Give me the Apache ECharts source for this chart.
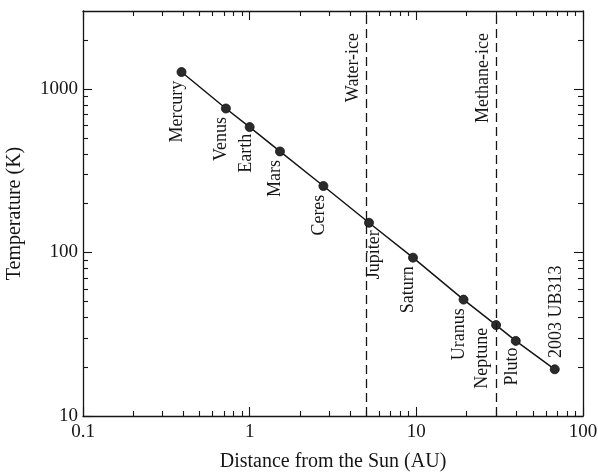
<!DOCTYPE html>
<html>
<head>
<meta charset="utf-8">
<script src="https://cdn.jsdelivr.net/npm/echarts@6/dist/echarts.min.js"></script>
<style>
html,body{margin:0;padding:0;background:#fff;}
#main{width:598px;height:475px;}
</style>
</head>
<body>
<div id="main"></div>
<script>
//天体名称 / 距离(AU) / 温度(K)
var bodyNames = ['Mercury','Venus','Earth','Mars','Ceres','Jupiter','Saturn','Uranus','Neptune','Pluto','2003 UB313'];
var distances = [0.39, 0.72, 1.0, 1.52, 2.77, 5.2, 9.55, 19.2, 30.1, 39.5, 67.7];
var temperatures = [1270, 760, 585, 415, 255, 152, 93, 51.5, 36, 28.8, 19.3];

//冰线
var iceLineNames = ['Water-ice','Methane-ice'];
var iceLineDist = [5, 30];

//刻度
var xTickLabels = ['0.1','1','10','100'];
var yTickLabels = ['10','100','1000'];
var xMin = 0.1, xMax = 100, yMin = 10, yMax = 3000;

var FONT = '"Liberation Serif", "DejaVu Serif", serif';
var INK = '#151515';

//标签位置微调 [dx, dy] 相对于点中心
var labelShift = {
    'Jupiter': [6, 8],
    'Neptune': [-13, 3],
    'Earth': [-3, 7],
    'Pluto': [-3, 7]
};

function log10(v){ return Math.log(v) / Math.LN10; }

function minorTicks(lo, hi){
    var arr = [];
    for (var d = lo; d < hi; d++) {
        for (var m = 2; m <= 9; m++) {
            var v = log10(m) + d;
            arr.push(v);
        }
    }
    return arr;
}

var xMajor = xTickLabels.map(function(s){ return Math.round(log10(parseFloat(s))); });
var yMajor = yTickLabels.map(function(s){ return Math.round(log10(parseFloat(s))); });
var xMinor = minorTicks(-1, 2);
var yMinor = minorTicks(1, 4).filter(function(v){ return v < log10(yMax) - 0.01; });

var points = [];
for (var i = 0; i < bodyNames.length; i++) {
    var name = bodyNames[i];
    var sh = labelShift[name] || [-4, 9];
    var lbl;
    if (name == '2003 UB313') {
        lbl = {position: [4.5 + 2, 4.5 - 11], align: 'left'};
    } else {
        lbl = {position: [4.5 + sh[0], 4.5 + sh[1]], align: 'right'};
    }
    points.push({name: name, value: [distances[i], temperatures[i]], label: lbl});
}

var iceLines = [];
for (var j = 0; j < iceLineNames.length; j++) {
    iceLines.push({name: iceLineNames[j], xAxis: iceLineDist[j]});
}

function boxAxis(pos, isX, min, max, ticks, len, labels, extra){
    var o = {
        type: 'value',
        position: pos,
        min: min,
        max: max,
        splitLine: {show: false},
        axisLine: {show: !!labels, onZero: false, lineStyle: {color: INK, width: 1.3}},
        axisTick: {show: true, inside: true, length: len, customValues: ticks, lineStyle: {color: INK, width: 1.1}},
        axisLabel: {show: false},
        z: 5
    };
    if (labels) {
        o.axisLabel = {
            show: labels.show,
            customValues: ticks,
            formatter: function(v){
                var idx = ticks.indexOf(v);
                return idx >= 0 ? labels.text[idx] : '';
            },
            color: INK,
            fontFamily: FONT,
            fontSize: 19,
            margin: isX ? 7 : 5
        };
    }
    for (var k in extra) o[k] = extra[k];
    return o;
}

var chart = echarts.init(document.getElementById('main'));
var option = {
    backgroundColor: '#ffffff',
    animation: false,
    grid: {left: 83, right: 15, top: 11, bottom: 59, containLabel: false, outerBoundsMode: 'none'},
    xAxis: [
        {type: 'log', logBase: 10, min: xMin, max: xMax, show: false},
        boxAxis('bottom', true, -1, 2, xMajor, 9, {show: true, text: xTickLabels}, {
            name: 'Distance from the Sun (AU)', nameLocation: 'middle', nameGap: 36,
            nameTextStyle: {fontFamily: FONT, fontSize: 20, color: INK}
        }),
        boxAxis('bottom', true, -1, 2, xMinor, 5, null, {}),
        boxAxis('top', true, -1, 2, xMajor, 9, {show: false, text: xTickLabels}, {}),
        boxAxis('top', true, -1, 2, xMinor, 5, null, {})
    ],
    yAxis: [
        {type: 'log', logBase: 10, min: yMin, max: yMax, show: false},
        boxAxis('left', false, 1, log10(yMax), yMajor, 9, {show: true, text: yTickLabels}, {
            name: 'Temperature (K)', nameLocation: 'middle', nameGap: 58,
            nameTextStyle: {fontFamily: FONT, fontSize: 20, color: INK}
        }),
        boxAxis('left', false, 1, log10(yMax), yMinor, 5, null, {}),
        boxAxis('right', false, 1, log10(yMax), yMajor, 9, {show: false, text: yTickLabels}, {}),
        boxAxis('right', false, 1, log10(yMax), yMinor, 5, null, {})
    ],
    series: [{
        type: 'line',
        xAxisIndex: 0,
        yAxisIndex: 0,
        data: points,
        symbol: 'circle',
        symbolSize: 9,
        itemStyle: {color: '#2b2b2b', borderColor: '#111', borderWidth: 0.8},
        lineStyle: {color: INK, width: 1.5},
        label: {
            show: true,
            formatter: '{b}',
            rotate: 90,
            verticalAlign: 'middle',
            fontFamily: FONT,
            fontSize: 18,
            color: INK
        },
        markLine: {
            silent: true,
            symbol: 'none',
            lineStyle: {color: INK, width: 1.3, type: [9, 5]},
            label: {
                show: true,
                formatter: '{b}',
                position: 'insideEndTop',
                distance: [22, 4],
                fontFamily: FONT,
                fontSize: 18,
                color: INK
            },
            data: iceLines
        }
    }]
};
chart.setOption(option);
</script>
</body>
</html>
